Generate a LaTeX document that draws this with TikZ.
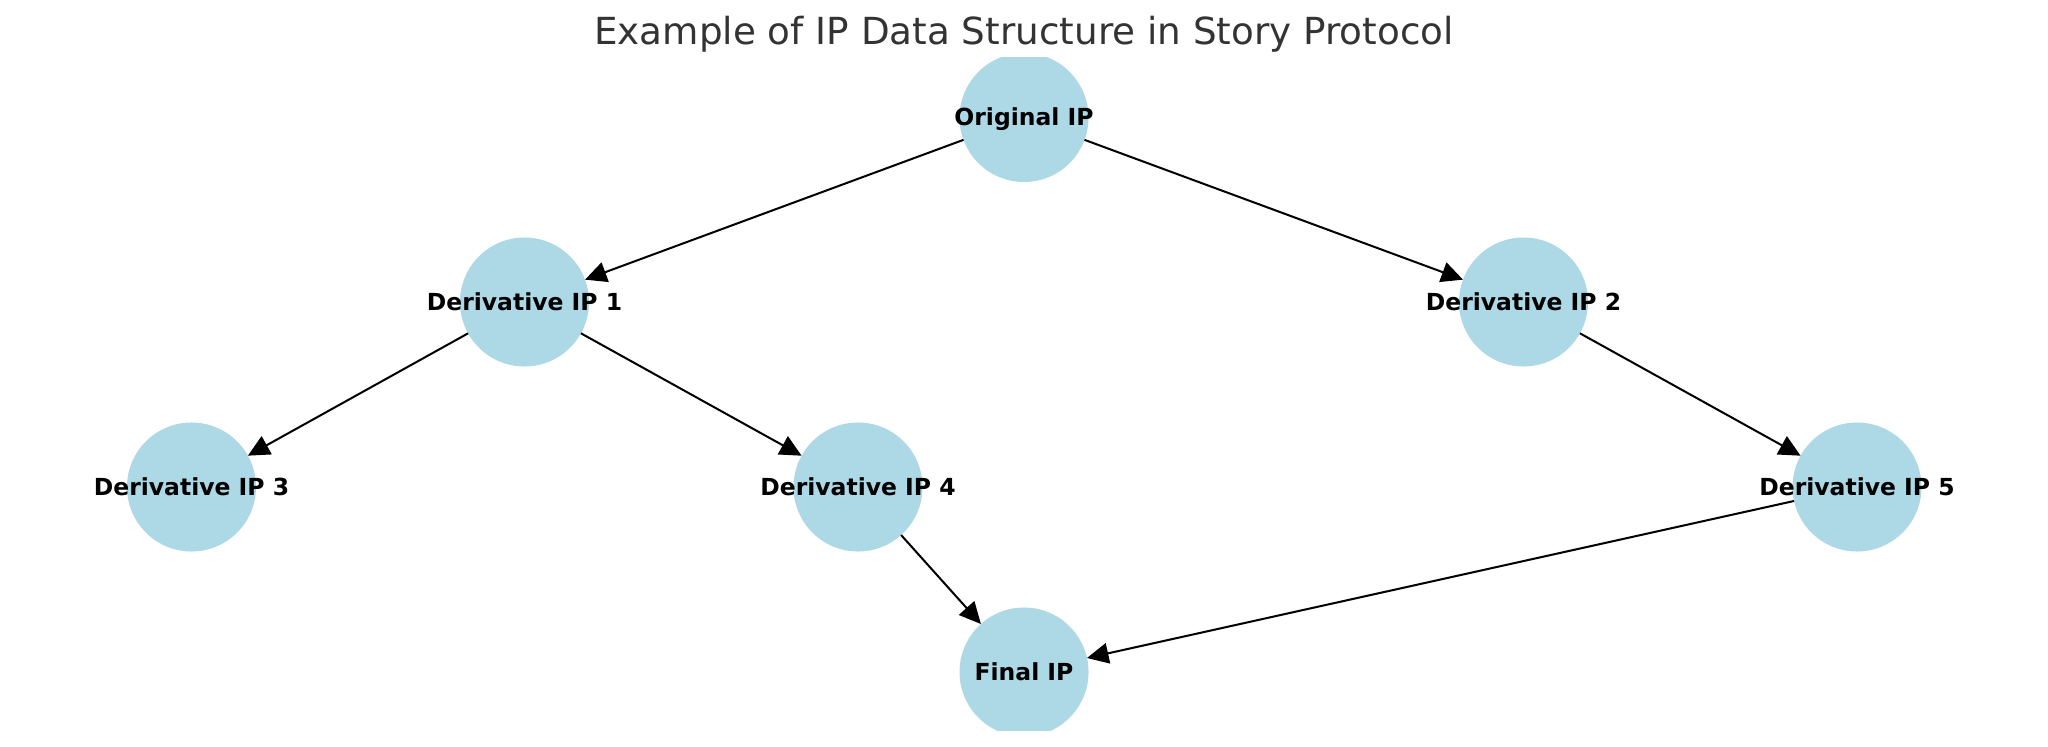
\documentclass[tikz,border=0pt]{standalone}
\usepackage{fontspec}
\setmainfont{DejaVu Sans}
\usetikzlibrary{arrows.meta}
\definecolor{nodeblue}{HTML}{ADD8E6}
\definecolor{titlegray}{HTML}{333333}
\tikzset{
  ipnode/.style={circle, fill=nodeblue, draw=none, minimum size=92.9pt, inner sep=0pt, outer sep=0pt},
  lbl/.style={anchor=base, inner sep=0pt, font=\fontsize{16.9pt}{18pt}\selectfont\bfseries, text=black},
  edge/.style={draw=black, line width=1.45pt, -{Triangle[length=15.5pt, width=14.8pt]}}
}
\begin{document}
\begin{tikzpicture}[x=0.72pt, y=-0.72pt]
\useasboundingbox (0,0) rectangle (2048,747);
\node[anchor=base, inner sep=0pt, text=titlegray, font=\fontsize{26.85pt}{30pt}\selectfont] (title) at (1024,45) {Example of IP Data Structure in Story Protocol};
\begin{scope}
\clip (0,58) rectangle (2048,730);
\node[ipnode] (o) at (1024,117.5) {};
\node[ipnode] (d1) at (524.5,302) {};
\node[ipnode] (d2) at (1523.5,302) {};
\node[ipnode] (d3) at (191.5,487) {};
\node[ipnode] (d4) at (858,487) {};
\node[ipnode] (d5) at (1857,487) {};
\node[ipnode] (f) at (1024,672) {};
\end{scope}
\draw[edge] (o) -- (d1);
\draw[edge] (o) -- (d2);
\draw[edge] (d1) -- (d3);
\draw[edge] (d1) -- (d4);
\draw[edge] (d2) -- (d5);
\draw[edge] (d4) -- (f);
\draw[edge] (d5) -- (f);
\node[lbl] (lo) at ([yshift=-5.8pt]o.center) {Original IP};
\node[lbl] (l1) at ([yshift=-5.8pt]d1.center) {Derivative IP 1};
\node[lbl] (l2) at ([yshift=-5.8pt]d2.center) {Derivative IP 2};
\node[lbl] (l3) at ([yshift=-5.8pt]d3.center) {Derivative IP 3};
\node[lbl] (l4) at ([yshift=-5.8pt]d4.center) {Derivative IP 4};
\node[lbl] (l5) at ([yshift=-5.8pt]d5.center) {Derivative IP 5};
\node[lbl] (lf) at ([yshift=-5.8pt]f.center) {Final IP};
\end{tikzpicture}
\end{document}
